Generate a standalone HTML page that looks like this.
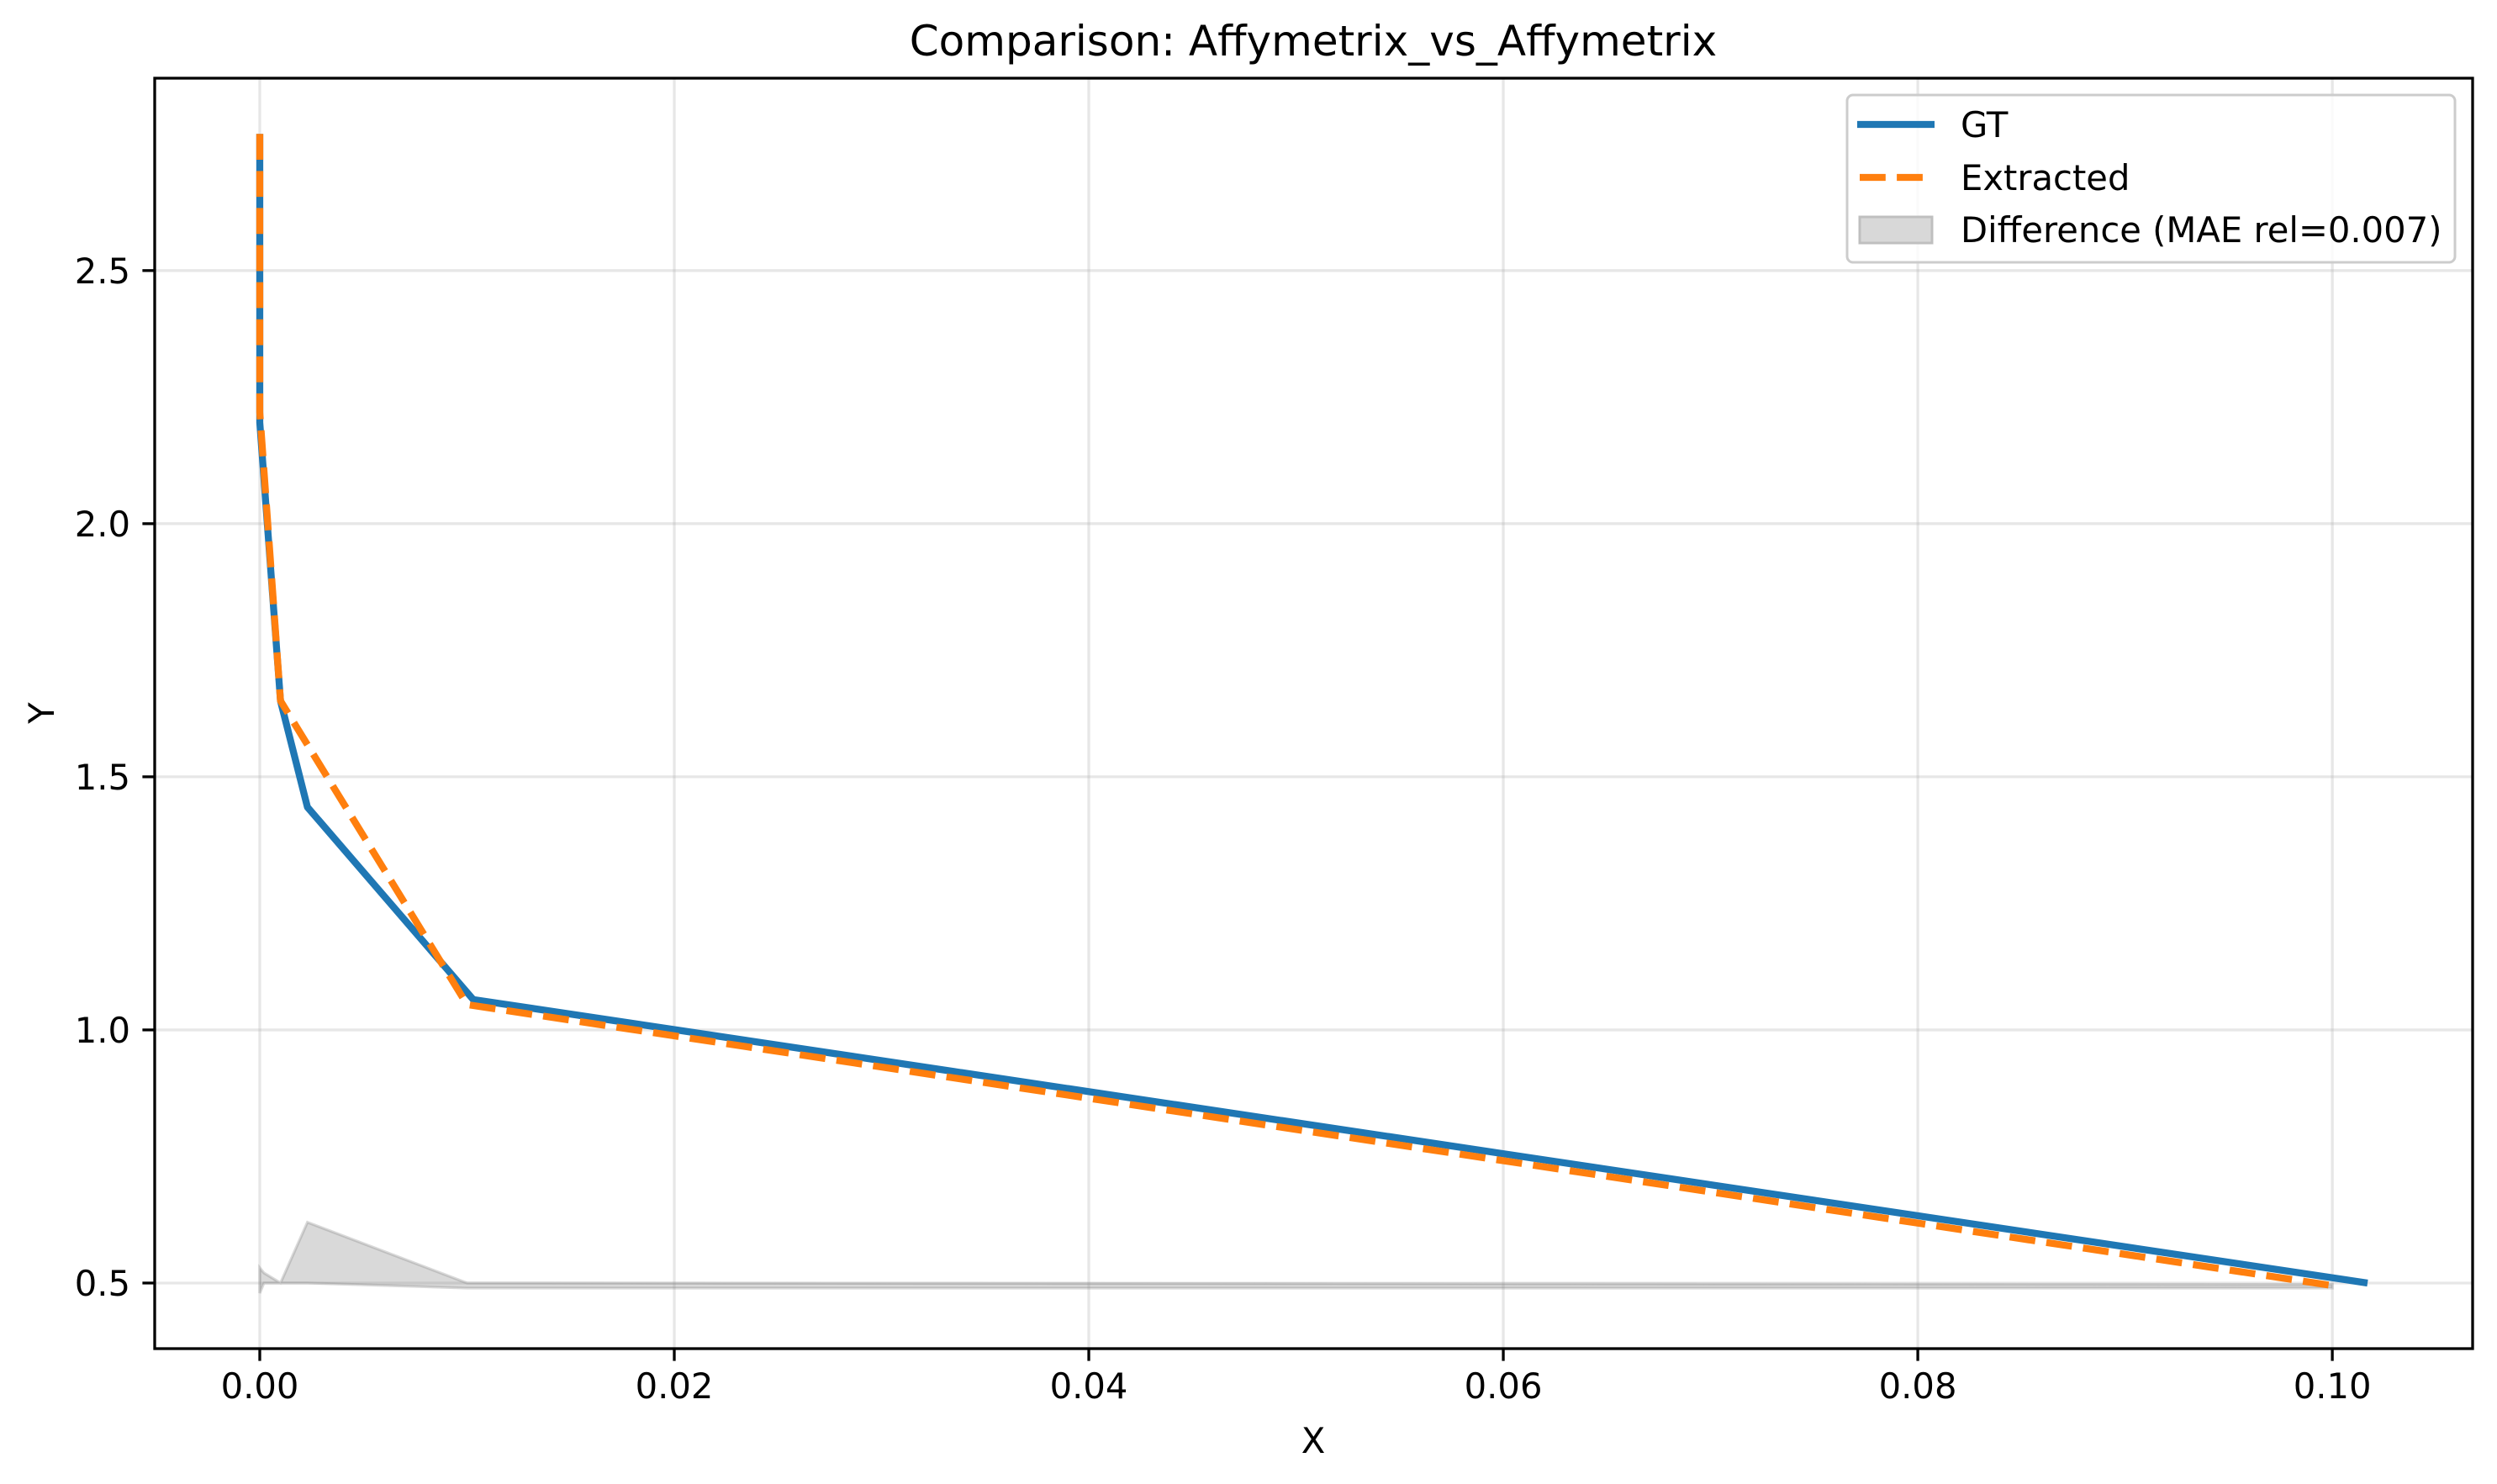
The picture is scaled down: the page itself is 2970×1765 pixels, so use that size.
<!DOCTYPE html>
<html><head><meta charset="utf-8"><style>
body{margin:0;background:#fff}
svg{display:block;font-family:"DejaVu Sans","Liberation Sans",sans-serif}
</style></head><body>
<svg id="chart" width="2970" height="1765" viewBox="0 0 2970 1765" xmlns="http://www.w3.org/2000/svg">
<rect width="2970" height="1765" fill="#fff"/>
<g id="grid"></g>
<g id="fills"></g>
<g id="lines"></g>
<g id="axes"></g>
<text x="1562" y="66" font-size="50" text-anchor="middle">Comparison: Affymetrix_vs_Affymetrix</text>
<text x="1562" y="1728" font-size="41.7" text-anchor="middle">X</text>
<text x="0" y="0" font-size="41.7" text-anchor="middle" transform="translate(64,848) rotate(-90)">Y</text>
<g>
<rect x="2197" y="113" width="723" height="199" rx="7" fill="#fff" fill-opacity="0.8" stroke="#cccccc" stroke-width="3"/>
<line x1="2209" y1="148" x2="2301" y2="148" stroke="#1f77b4" stroke-width="8.3"/>
<text x="2332" y="163" font-size="41.7">GT</text>
<line x1="2212" y1="211" x2="2298" y2="211" stroke="#ff7f0e" stroke-width="8.3" stroke-dasharray="30.8 13.3"/>
<text x="2332" y="226" font-size="41.7">Extracted</text>
<rect x="2212" y="258" width="86" height="31" fill="#d8d8d8" stroke="#bfbfbf" stroke-width="3"/>
<text x="2332" y="288" font-size="41.7">Difference (MAE rel=0.007)</text>
</g>
</svg>
<script>
const gtX = [0, 0, 0.001, 0.0023, 0.0103, 0.1017];
const gtY = [2.77, 2.2, 1.65, 1.44, 1.06, 0.50];
const exX = [0, 0, 0.001, 0.01, 0.1];
const exY = [2.77, 2.22, 1.65, 1.05, 0.495];
const diffX = [0, 0.0002, 0.001, 0.0023, 0.01, 0.1];
const diffTop = [0.53, 0.52, 0.50, 0.62, 0.50, 0.497];
const diffBase = [0.48, 0.50, 0.50, 0.50, 0.49, 0.49];
const xTicks = [0, 0.02, 0.04, 0.06, 0.08, 0.10];
const xTickLabels = ["0.00", "0.02", "0.04", "0.06", "0.08", "0.10"];
const yTicks = [0.5, 1.0, 1.5, 2.0, 2.5];
const yTickLabels = ["0.5", "1.0", "1.5", "2.0", "2.5"];

const L = 184, R = 2941, T = 93, B = 1604;
const xMin = -0.00507, xMax = 0.10677, yMin = 0.3704, yMax = 2.880;
function sx(v){ return L + (v - xMin) / (xMax - xMin) * (R - L); }
function sy(v){ return B - (v - yMin) / (yMax - yMin) * (B - T); }
const NS = "http://www.w3.org/2000/svg";
function mk(tag, attrs, parent){
  const e = document.createElementNS(NS, tag);
  for (const k in attrs) e.setAttribute(k, attrs[k]);
  parent.appendChild(e);
  return e;
}
const grid = document.getElementById('grid');
const axes = document.getElementById('axes');
xTicks.forEach((t, i) => {
  const x = sx(t);
  const g = mk('line', {x1:x, x2:x, y1:T, y2:B, stroke:'#b0b0b0', 'stroke-opacity':0.3, 'stroke-width':3.3}, grid);
  
  
  const tk = mk('line', {x1:x, x2:x, y1:B, y2:B+14.6, stroke:'#000', 'stroke-width':3.3}, axes);
  
  
  const tx = mk('text', {x:x, y:B+59, 'font-size':41.7, 'text-anchor':'middle'}, axes);
  tx.textContent = xTickLabels[i];
  
  
});
yTicks.forEach((t, i) => {
  const y = sy(t);
  const g = mk('line', {x1:L, x2:R, y1:y, y2:y, stroke:'#b0b0b0', 'stroke-opacity':0.3, 'stroke-width':3.3}, grid);
  
  
  const tk = mk('line', {x1:L-14.6, x2:L, y1:y, y2:y, stroke:'#000', 'stroke-width':3.3}, axes);
  
  
  const tx = mk('text', {x:L-29, y:y+15, 'font-size':41.7, 'text-anchor':'end'}, axes);
  tx.textContent = yTickLabels[i];
  
  
});
const frame = mk('rect', {x:L, y:T, width:R-L, height:B-T, fill:'none', stroke:'#000', 'stroke-width':3.3}, axes);



let pts = diffX.map((x, i) => sx(x) + ',' + sy(diffTop[i]));
for (let i = diffX.length - 1; i >= 0; i--) pts.push(sx(diffX[i]) + ',' + sy(diffBase[i]));
const fill = mk('polygon', {points: pts.join(' '), fill:'#808080', 'fill-opacity':0.3, stroke:'#808080', 'stroke-opacity':0.3, 'stroke-width':3.3}, document.getElementById('fills'));



const lines = document.getElementById('lines');
const gt = mk('polyline', {points: gtX.map((x, i) => sx(x) + ',' + sy(gtY[i])).join(' '), fill:'none', stroke:'#1f77b4', 'stroke-width':8.3, 'stroke-linejoin':'round'}, lines);


const ex = mk('polyline', {points: exX.map((x, i) => sx(x) + ',' + sy(exY[i])).join(' '), fill:'none', stroke:'#ff7f0e', 'stroke-width':8.3, 'stroke-dasharray':'30.8 13.3', 'stroke-linejoin':'round'}, lines);


</script>
</body></html>
